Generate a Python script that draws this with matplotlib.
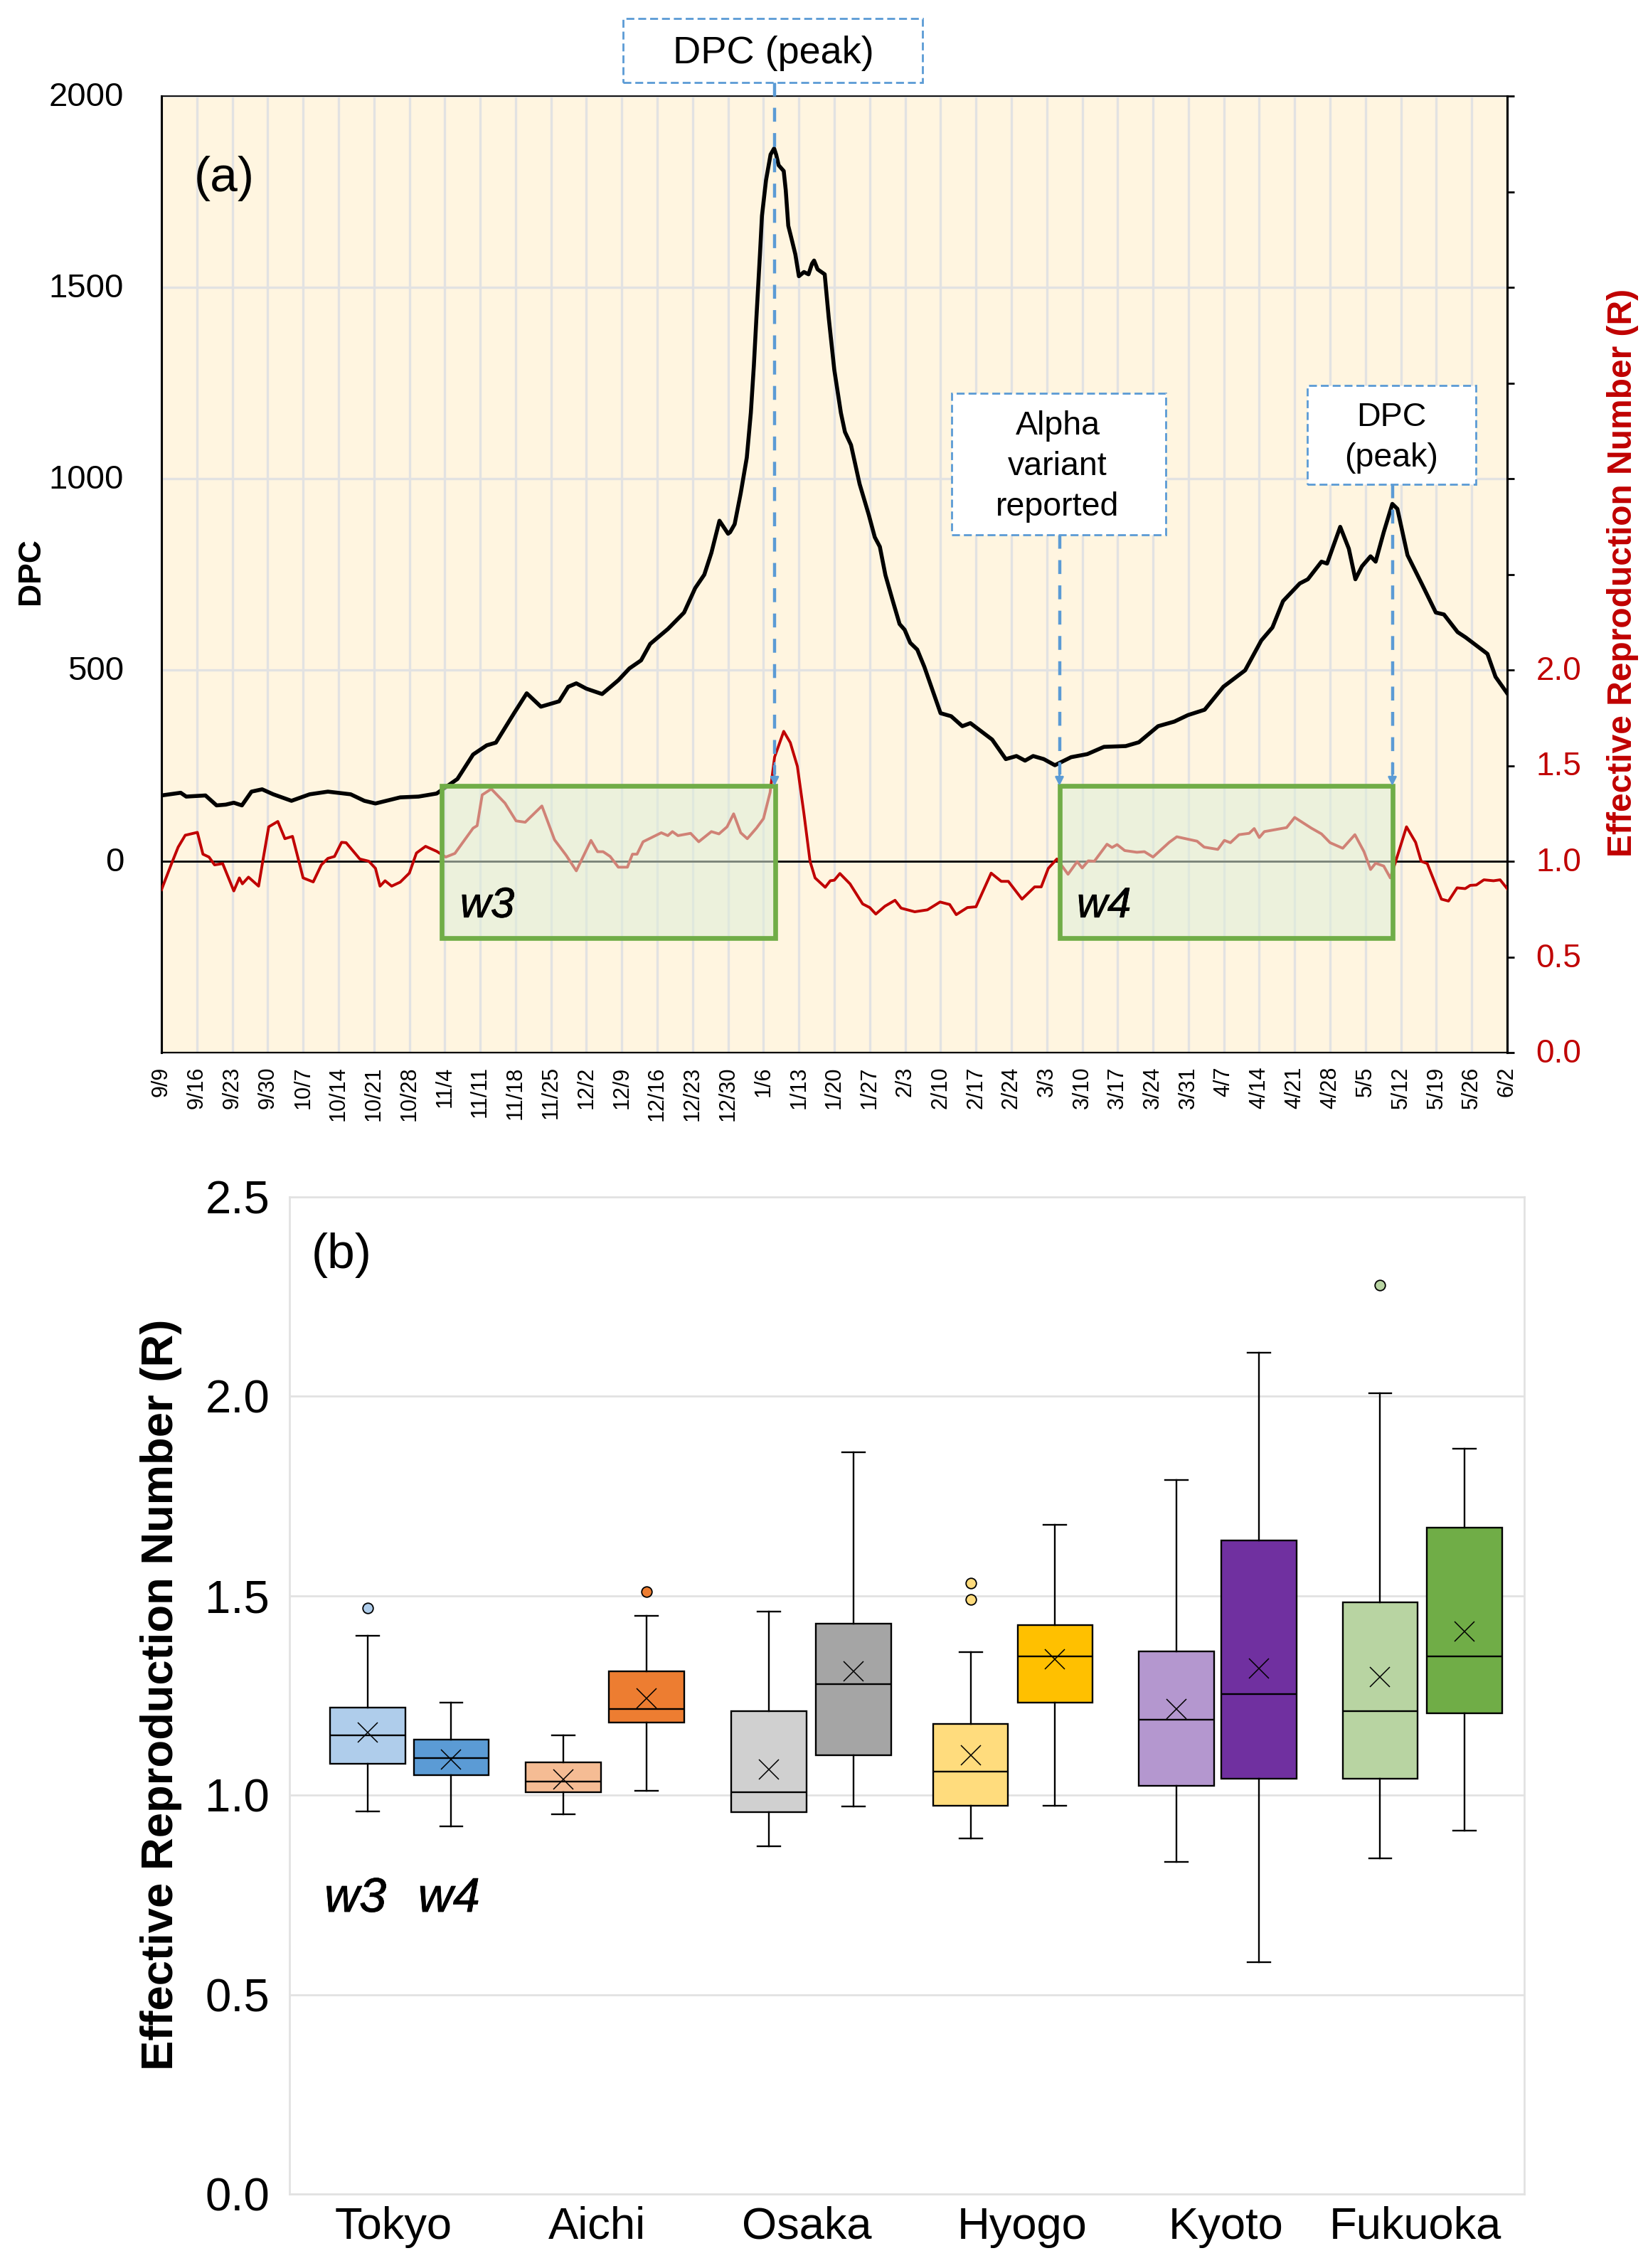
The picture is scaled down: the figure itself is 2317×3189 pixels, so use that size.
import matplotlib
matplotlib.use('Agg')
from matplotlib import pyplot as plt
from matplotlib import patheffects
from matplotlib.patches import Rectangle
from matplotlib.transforms import ScaledTranslation

plt.rcParams['font.family'] = ['Liberation Sans', 'DejaVu Sans']

W, H = 2317, 3189

week_labels = ['9/9', '9/16', '9/23', '9/30', '10/7', '10/14', '10/21', '10/28', '11/4', '11/11',
               '11/18', '11/25', '12/2', '12/9', '12/16', '12/23', '12/30', '1/6', '1/13', '1/20',
               '1/27', '2/3', '2/10', '2/17', '2/24', '3/3', '3/10', '3/17', '3/24', '3/31',
               '4/7', '4/14', '4/21', '4/28', '5/5', '5/12', '5/19', '5/26', '6/2']
week_days = [7 * i for i in range(len(week_labels))]

# days since 9/9
dpc_days = [0, 3.8, 4.9, 8.7, 10.9, 12.7, 14.3, 15.9, 17.8, 19.9, 22.1, 25.7, 29.3, 32.9, 37.4, 40.1,
            42.3, 47.2, 50.8, 54.4, 58.5, 61.6, 64.3, 66.1, 69.7, 72.2, 75, 78.6, 80.4, 82, 84, 87.1,
            90.3, 92.5, 94.8, 96.6, 100.1, 103.3, 105.5, 107.3, 108.7, 109.4, 110.3, 112, 112.4, 113.3,
            114.5, 115.7, 116.5, 117.1, 117.6, 118.3, 118.7, 119.5, 120.4, 121.1, 121.5, 122, 123, 123.4,
            123.9, 124.6, 125.3, 126, 127, 127.9, 128.6, 129, 129.7, 131.1, 131.9, 133, 134.3, 135.1,
            136.3, 138, 139.8, 141, 142, 143.1, 144.5, 145.9, 146.9, 148, 149.4, 150.8, 154, 156.1,
            158.3, 159.9, 164.2, 166.9, 169, 170.7, 172.3, 174.4, 176.6, 179.8, 183, 186.3, 190.6, 193.2,
            197, 200.2, 202.9, 206.2, 209.9, 214.2, 217.4, 219.6, 221.7, 225, 226.6, 229.3, 230.4, 233,
            234.7, 236, 237.3, 239, 240, 241.6, 243.3, 244.3, 246.3, 249.2, 251.9, 253.5, 256.2, 257.8,
            262.1, 263.7, 266]
dpc_values = [172, 179, 169, 172, 146, 148, 153, 146, 182, 188, 175, 158, 175, 182, 175, 158,
              151, 167, 169, 177, 215, 279, 303, 310, 387, 439, 404, 418, 456, 465, 451, 437,
              473, 504, 525, 568, 607, 650, 714, 749, 806, 843, 890, 856, 860, 881,
              962, 1055, 1172, 1296, 1420, 1586, 1687, 1780, 1847, 1863, 1847, 1819, 1804, 1754,
              1661, 1624, 1586, 1529, 1540, 1534, 1562, 1570, 1547, 1534, 1420, 1284, 1172, 1122,
              1088, 986, 906, 847, 822, 748, 683, 620, 605, 571, 553, 508, 387, 379,
              353, 361, 318, 267, 275, 263, 275, 267, 251, 272, 280, 299, 301, 311,
              353, 365, 382, 396, 456, 499, 577, 611, 680, 726, 737, 783, 778, 874,
              817, 737, 771, 797, 783, 860, 934, 921, 800, 723, 650, 645, 599, 585,
              542, 482, 439]

r_days = [0, 2, 3.3, 4.7, 7.1, 8.2, 9.4, 10.5, 12.1, 14.3, 15.4, 16, 17.2, 19.2, 20.1, 21.2, 23, 24.4,
          25.9, 28, 30, 31.6, 32.9, 34.2, 35.6, 36.5, 39.2, 41, 42.3, 43.2, 44.2, 45.5, 47.2, 49, 50.4,
          52.2, 54.4, 56.2, 58, 61.6, 62.4, 63.4, 65.2, 67.9, 70.1, 71.9, 75.2, 77.7, 80, 82, 84.9, 86.2,
          87.3, 88.7, 90.3, 92.1, 93.1, 94, 95.2, 98.8, 100.1, 101, 102.1, 104.6, 106.2, 108.7, 110.2,
          111.8, 113.1, 114.5, 115.8, 117.6, 119, 120.3, 121.2, 123, 124.3, 125.7, 127, 128.2, 129.2,
          131.2, 132.2, 133, 134.1, 136.1, 138.6, 140, 141.2, 143, 145, 146.2, 148.9, 151.4, 153.9,
          155.8, 157.1, 159.3, 161, 164, 166, 167.4, 170.1, 172.6, 173.9, 175.3, 177, 179.2, 181, 182,
          183.2, 184.4, 186.9, 187.9, 188.9, 190.4, 192.8, 194.3, 196, 199.2, 200.7, 204.7, 206.1,
          208.8, 210.1, 211.3, 213, 215, 216, 217, 218, 222.4, 224, 227.3, 229.3, 231, 233.5, 235.9,
          237.7, 239, 240, 241.6, 242.9, 243.9, 246.1, 247.9, 249, 250.2, 253, 254.4, 256.1, 257.7,
          258.7, 259.9, 261.4, 263.3, 264.6, 266]
r_values = [0.851, 0.988, 1.074, 1.136, 1.151, 1.037, 1.022, 0.981, 0.988, 0.845, 0.913, 0.882, 0.917,
            0.87, 1.012, 1.18, 1.208, 1.118, 1.13, 0.913, 0.892, 0.981, 1.015, 1.025, 1.099, 1.097,
            1.012, 1.0, 0.963, 0.87, 0.898, 0.87, 0.891, 0.938, 1.043, 1.078, 1.052, 1.022, 1.041, 1.173,
            1.186, 1.347, 1.378, 1.304, 1.211, 1.204, 1.289, 1.112, 1.031, 0.95, 1.109, 1.05, 1.05,
            1.025, 0.969, 0.969, 1.037, 1.037, 1.102, 1.149, 1.134, 1.155, 1.134, 1.146, 1.102, 1.155,
            1.143, 1.18, 1.248, 1.149, 1.118, 1.173, 1.223, 1.359, 1.545, 1.679, 1.62, 1.496, 1.248, 1.0,
            0.913, 0.864, 0.898, 0.901, 0.936, 0.882, 0.777, 0.758, 0.724, 0.765, 0.796, 0.755, 0.736,
            0.746, 0.787, 0.774, 0.721, 0.758, 0.762, 0.938, 0.895, 0.895, 0.802, 0.866, 0.866, 0.963,
            1.012, 0.932, 0.998, 0.965, 1.002, 1.0, 1.089, 1.072, 1.087, 1.056, 1.047, 1.05, 1.022,
            1.099, 1.128, 1.105, 1.074, 1.062, 1.109, 1.097, 1.139, 1.146, 1.171, 1.124, 1.155, 1.176,
            1.229, 1.173, 1.143, 1.097, 1.068, 1.139, 1.05, 0.957, 0.99, 0.975, 0.913, 0.994, 1.18,
            1.099, 1.0, 0.988, 0.802, 0.792, 0.861, 0.857, 0.874, 0.876, 0.903, 0.898, 0.903, 0.857]

# panel (b), w3 and w4 for each prefecture
prefectures = ['Tokyo', 'Aichi', 'Osaka', 'Hyogo', 'Kyoto', 'Fukuoka']
box_low = [0.96, 0.922, 0.952, 1.011, 0.872, 0.971, 0.891, 0.973, 0.833, 0.582, 0.841, 0.912]
box_q1 = [1.078, 1.05, 1.008, 1.182, 0.958, 1.10, 0.973, 1.233, 1.023, 1.042, 1.042, 1.205]
box_med = [1.151, 1.093, 1.035, 1.216, 1.008, 1.279, 1.059, 1.348, 1.19, 1.253, 1.21, 1.348]
box_mean = [1.158, 1.09, 1.04, 1.242, 1.065, 1.31, 1.10, 1.341, 1.216, 1.318, 1.297, 1.41]
box_q3 = [1.22, 1.139, 1.082, 1.31, 1.21, 1.43, 1.178, 1.427, 1.361, 1.639, 1.484, 1.671]
box_high = [1.399, 1.233, 1.151, 1.449, 1.461, 1.86, 1.359, 1.678, 1.79, 2.109, 2.008, 1.868]
box_fliers = [[1.469], [], [], [1.51], [], [], [1.491, 1.531], [], [], [], [2.278], []]
box_colors = ['#AFCDEB', '#5B9BD5', '#F5BC94', '#ED7D31', '#D0D0D0', '#A5A5A5',
              '#FFDC7D', '#FFC000', '#B497CF', '#7030A0', '#B8D4A2', '#70AD47']
box_pos = [0.38, 0.786, 1.33, 1.735, 2.33, 2.74, 3.31, 3.72, 4.31, 4.71, 5.30, 5.71]
label_pos = [0.505, 1.494, 2.513, 3.56, 4.55, 5.47]

wave_spans = [(55.4, 121.4), (177.5, 243.3)]
RED = '#C00000'
BLUE = '#5B9BD5'
GREEN = '#70AD47'
GRID = '#E2E2E2'


def ax_rect(x0, y0, x1, y1):
    return [x0 / W, 1 - y1 / H, (x1 - x0) / W, (y1 - y0) / H]


def note_box(fig, x0, y0, x1, y1):
    fig.add_artist(Rectangle((x0 / W, 1 - y1 / H), (x1 - x0) / W, (y1 - y0) / H, transform=fig.transFigure,
                             facecolor='white', edgecolor=BLUE, linewidth=2, linestyle=(0, (4, 2)), zorder=20))


def note_text(fig, x, y, s, size):
    fig.text(x / W, 1 - y / H, s, ha='center', va='center', fontsize=size, zorder=21)


def dashed_arrow(ax, x, y_top, y_end):
    ax.plot([x, x], [y_top, y_end + 0.06], color=BLUE, lw=3.2, linestyle=(0, (4.4, 3.6)), clip_on=False, zorder=9)
    ax.annotate('', xy=(x, y_end), xytext=(x, y_end + 0.12), annotation_clip=False, zorder=10,
                arrowprops=dict(arrowstyle='-|>,head_width=0.35,head_length=0.7', color=BLUE, lw=2, shrinkA=0, shrinkB=0))


def wave_label(ax, x, y, s, size):
    ax.text(x, y, s, fontsize=size, style='italic', ha='center', va='center', zorder=7,
            path_effects=[patheffects.withStroke(linewidth=0.6, foreground='black')])


fig = plt.figure(figsize=(W / 100, H / 100), dpi=100)
nudge_up = ScaledTranslation(0, 3 / 100, fig.dpi_scale_trans)

# panel (a)
ax1 = fig.add_axes(ax_rect(227, 135, 2119, 1480))
ax1.set_facecolor('#FFF5E0')
ax1.set_xlim(0, 266)
ax1.set_ylim(-500, 2000)
ax1.set_xticks(week_days)
ax1.set_xticklabels(week_labels, rotation=90, fontsize=22)
ax1.set_yticks([0, 500, 1000, 1500, 2000])
ax1.tick_params(axis='x', length=0, pad=14)
ax1.tick_params(axis='y', length=0, pad=38, labelsize=34)
for label in ax1.get_yticklabels():
    label.set_transform(label.get_transform() + nudge_up)
ax1.grid(True, color=GRID, lw=2.4)
ax1.set_axisbelow(True)
ax1.axhline(0, color='black', lw=2, zorder=1.5)
ax1.plot(dpc_days, dpc_values, color='black', lw=4, zorder=3, solid_joinstyle='round')
for side, lw in [('left', 2.2), ('bottom', 1.6), ('top', 1.2), ('right', 2.2)]:
    ax1.spines[side].set_linewidth(lw)
fig.text(44 / W, 1 - 803 / H, 'DPC', rotation=90, ha='center', va='center', fontsize=32, fontweight='bold')
ax1.text(0.024, 0.9135, '(a)', transform=ax1.transAxes, fontsize=50, va='center')

ax2 = ax1.twinx()
ax2.set_ylim(0, 5)
ax2.set_yticks([0.5 * i for i in range(11)])
ax2.set_yticklabels(['0.0', '0.5', '1.0', '1.5', '2.0'] + [''] * 6)
ax2.tick_params(axis='y', length=7, width=2, pad=22, labelsize=33, labelcolor=RED)
for label in ax2.get_yticklabels():
    label.set_transform(label.get_transform() + nudge_up)
ax2.spines['right'].set_linewidth(2.2)
ax2.plot(r_days, r_values, color=RED, lw=2.8, zorder=3, solid_joinstyle='round')
fig.text(2281 / W, 1 - 805 / H, 'Effective Reproduction Number (R)', rotation=90, ha='center', va='center',
         fontsize=34.5, fontweight='bold', color=RED)

for start, end in wave_spans:
    ax2.add_patch(Rectangle((start, 0.6), end - start, 0.794, facecolor='#DEEED9', alpha=0.55, edgecolor='none', zorder=5))
    ax2.add_patch(Rectangle((start, 0.6), end - start, 0.794, facecolor='none', edgecolor=GREEN, lw=4.8, zorder=6))
wave_label(ax2, 64.4, 0.765, 'w3', 43)
wave_label(ax2, 186.3, 0.765, 'w4', 43)

dashed_arrow(ax2, 121.2, 5.07, 1.394)
dashed_arrow(ax2, 177.5, 2.706, 1.394)
dashed_arrow(ax2, 243.3, 2.97, 1.394)

note_box(fig, 876, 26, 1297, 116)
note_text(fig, 1087, 75, 'DPC (peak)', 39)
note_box(fig, 1338, 553, 1639, 752)
note_text(fig, 1487, 599, 'Alpha', 33.5)
note_text(fig, 1487, 656, 'variant', 33.5)
note_text(fig, 1487, 713, 'reported', 33.5)
note_box(fig, 1838, 542, 2075, 681)
note_text(fig, 1956, 587, 'DPC', 33.5)
note_text(fig, 1956, 644, '(peak)', 33.5)

# panel (b)
ax3 = fig.add_axes(ax_rect(407, 1683, 2143, 3085))
ax3.set_xlim(0, 6)
ax3.set_ylim(0, 2.5)
ax3.set_yticks([0, 0.5, 1.0, 1.5, 2.0, 2.5])
ax3.set_yticklabels(['0.0', '0.5', '1.0', '1.5', '2.0', '2.5'])
ax3.grid(True, axis='y', color=GRID, lw=2)
ax3.set_axisbelow(True)
for spine in ax3.spines.values():
    spine.set_color(GRID)
    spine.set_linewidth(2)
ax3.tick_params(axis='y', length=0, pad=20, labelsize=47)
ax3.tick_params(axis='x', length=0, pad=12, labelsize=45.5)

for i in range(len(box_pos)):
    stats = [dict(med=box_med[i], q1=box_q1[i], q3=box_q3[i], whislo=box_low[i], whishi=box_high[i],
                  mean=box_mean[i], fliers=box_fliers[i])]
    ax3.bxp(stats, positions=[box_pos[i]], widths=0.365, capwidths=0.11, patch_artist=True, showmeans=True,
            boxprops=dict(facecolor=box_colors[i], edgecolor='black', linewidth=1.7),
            medianprops=dict(color='black', linewidth=1.7),
            whiskerprops=dict(color='black', linewidth=1.7),
            capprops=dict(color='black', linewidth=1.7),
            meanprops=dict(marker='x', markeredgecolor='black', markersize=20, markeredgewidth=1.1),
            flierprops=dict(marker='o', markerfacecolor=box_colors[i], markeredgecolor='black',
                            markersize=10.5, markeredgewidth=1.3),
            manage_ticks=False)

ax3.set_xticks(label_pos)
ax3.set_xticklabels(prefectures)
ax3.text(0.018, 0.9415, '(b)', transform=ax3.transAxes, fontsize=50, va='center')
wave_label(ax3, 0.32, 0.74, 'w3', 49)
wave_label(ax3, 0.775, 0.74, 'w4', 49)
fig.text(227 / W, 1 - 2383 / H, 'Effective Reproduction Number (R)', rotation=90, ha='center', va='center',
         fontsize=45.6, fontweight='bold')

fig.savefig('out.png', dpi=100)
